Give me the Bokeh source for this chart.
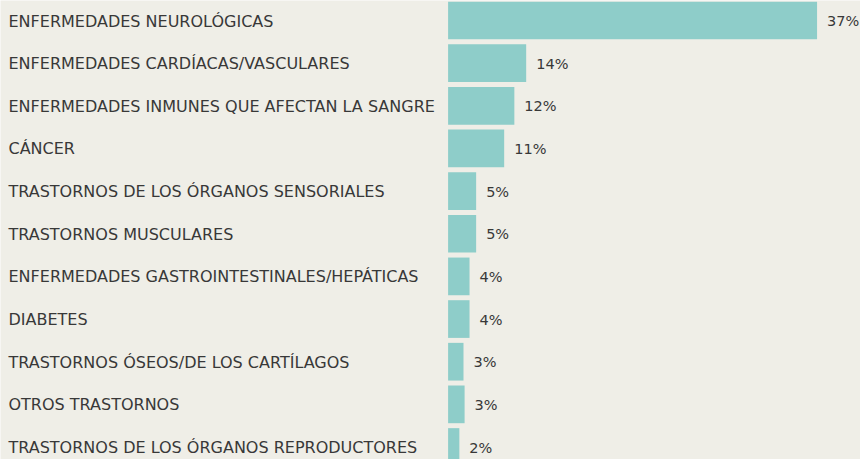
from bokeh.plotting import figure
from bokeh.models import Range1d, ColumnDataSource
from bokeh.core.properties import value
from bokeh.embed import file_html
from bokeh.resources import INLINE

# ---- data ----
categories = [
    "ENFERMEDADES NEUROLÓGICAS",
    "ENFERMEDADES CARDÍACAS/VASCULARES",
    "ENFERMEDADES INMUNES QUE AFECTAN LA SANGRE",
    "CÁNCER",
    "TRASTORNOS DE LOS ÓRGANOS SENSORIALES",
    "TRASTORNOS MUSCULARES",
    "ENFERMEDADES GASTROINTESTINALES/HEPÁTICAS",
    "DIABETES",
    "TRASTORNOS ÓSEOS/DE LOS CARTÍLAGOS",
    "OTROS TRASTORNOS",
    "TRASTORNOS DE LOS ÓRGANOS REPRODUCTORES",
]
shares = [37, 14, 12, 11, 5, 5, 4, 4, 3, 3, 2]
# drawn bar lengths as measured in the source (the top bar is drawn longer than its share)
bar_lengths = [67.1, 14.2, 12.05, 10.2, 5.1, 5.1, 3.9, 3.9, 2.8, 3.0, 2.05]
share_labels = [f"{s}%" for s in shares]
rows = list(range(len(categories)))

BG = "#efeee7"
BAR = "#8ecdc9"
TXT = "#383838"
FONT = "DejaVu Sans"

src = ColumnDataSource(dict(row=rows, cat=categories, length=bar_lengths, lab=share_labels))

x_range = Range1d(-81.4, 75.0)
p = figure(width=860, height=459, output_backend="svg", toolbar_location=None,
           x_range=x_range, y_range=Range1d(10.293, -0.469),
           x_axis_location=None, y_axis_location=None, min_border=0)
p.background_fill_color = BG
p.border_fill_color = BG
p.outline_line_color = None
p.grid.visible = False

p.hbar(y="row", left=0, right="length", height=0.884, fill_color=BAR, line_color=None, source=src)

p.text(x=x_range.start, y="row", text="cat", x_offset=8, y_offset=0.5, text_align="left",
       text_baseline="middle", text_font=value(FONT), text_font_size="16px",
       text_color=TXT, source=src)
p.text(x="length", y="row", text="lab", x_offset=10, y_offset=0.5, text_align="left",
       text_baseline="middle", text_font=value(FONT), text_font_size="14.5px",
       text_color=TXT, source=src)

open("out.html", "w").write(file_html(p, INLINE))
